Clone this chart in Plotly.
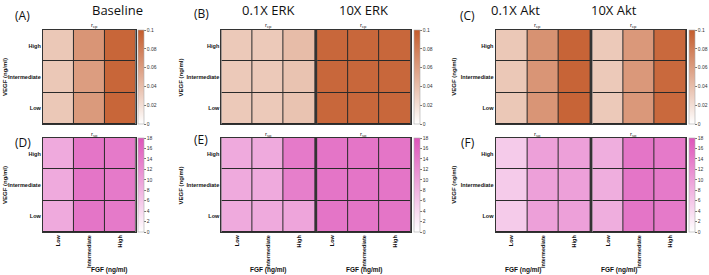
import plotly.graph_objects as go

W, H = 709, 275

fgf_levels = ["Low", "Intermediate", "High"]
vegf_levels = ["Low", "Intermediate", "High"]

# rows: VEGF Low, Intermediate, High ; cols: FGF Low, Intermediate, High
rcp_baseline = [[0.034, 0.062, 0.094], [0.034, 0.060, 0.094], [0.034, 0.065, 0.094]]
rcp_erk_01 = [[0.033, 0.033, 0.037], [0.033, 0.033, 0.037], [0.033, 0.033, 0.041]]
rcp_erk_10 = [[0.093, 0.093, 0.093], [0.093, 0.093, 0.093], [0.093, 0.093, 0.093]]
rcp_akt_01 = [[0.034, 0.065, 0.095], [0.034, 0.065, 0.095], [0.034, 0.067, 0.095]]
rcp_akt_10 = [[0.033, 0.063, 0.092], [0.033, 0.063, 0.092], [0.033, 0.063, 0.092]]

rsg_baseline = [[9.0, 14.5, 14.0], [9.0, 14.5, 14.0], [9.0, 14.5, 14.0]]
rsg_erk_01 = [[9.0, 9.0, 9.5], [9.0, 9.0, 13.5], [9.0, 9.0, 14.0]]
rsg_erk_10 = [[14.5, 14.5, 14.5], [14.5, 14.5, 14.5], [14.5, 14.5, 14.5]]
rsg_akt_01 = [[5.5, 10.0, 10.0], [5.5, 10.0, 10.0], [5.5, 10.0, 10.0]]
rsg_akt_10 = [[8.5, 14.5, 14.0], [8.5, 14.5, 14.0], [8.5, 14.5, 14.0]]

rcp_ticks = [0, 0.02, 0.04, 0.06, 0.08, 0.1]
rsg_ticks = [0, 2, 4, 6, 8, 10, 12, 14, 16, 18]

ORANGE = [[0, "rgb(255,255,255)"], [1, "rgb(196,92,44)"]]
PINK = [[0, "rgb(255,255,255)"], [1, "rgb(222,84,186)"]]

# pixel layout (x0, x1) for each heatmap column
cols = {"A": (43, 136), "B1": (222, 316), "B2": (318, 412), "C1": (497, 592), "C2": (594, 688)}
rows = {"top": (30, 124), "bot": (138, 232)}

panels = [
    ("A", "top", rcp_baseline), ("B1", "top", rcp_erk_01), ("B2", "top", rcp_erk_10),
    ("C1", "top", rcp_akt_01), ("C2", "top", rcp_akt_10),
    ("A", "bot", rsg_baseline), ("B1", "bot", rsg_erk_01), ("B2", "bot", rsg_erk_10),
    ("C1", "bot", rsg_akt_01), ("C2", "bot", rsg_akt_10),
]
cbar_cols = {"A": 138, "B2": 415, "C2": 691}

FONT = "Liberation Sans, Arial, sans-serif"
fig = go.Figure()
layout = {}
annotations = []

for i, (c, r, z) in enumerate(panels, start=1):
    x0, x1 = cols[c]
    y0, y1 = rows[r]
    top = r == "top"
    show_cb = c in cbar_cols
    cb = None
    if show_cb:
        cb = dict(
            x=cbar_cols[c] / W, xanchor="left", y=1 - y0 / H, yanchor="top",
            len=(y1 - y0) / H, lenmode="fraction", thickness=6, xpad=0, ypad=0,
            outlinewidth=0.6, outlinecolor="#aaaaaa",
            tickvals=rcp_ticks if top else rsg_ticks,
            ticktext=[str(v) for v in (rcp_ticks if top else rsg_ticks)],
            ticks="outside", ticklen=2, tickwidth=0.5, tickcolor="#777",
            tickfont=dict(size=5, family=FONT, color="#333"),
        )
    fig.add_trace(go.Heatmap(
        z=z, x=fgf_levels, y=vegf_levels,
        colorscale=ORANGE if top else PINK,
        zmin=0, zmax=0.1 if top else 18,
        xgap=1, ygap=1,
        showscale=show_cb, colorbar=cb,
        xaxis=f"x{i}", yaxis=f"y{i}", hoverinfo="skip",
    ))
    sfx = "" if i == 1 else str(i)
    left = c in ("A", "B1", "C1")
    layout[f"xaxis{sfx}"] = dict(
        domain=[x0 / W, x1 / W], anchor=f"y{i}", type="category",
        categoryorder="array", categoryarray=fgf_levels,
        showticklabels=not top, tickangle=-90, ticks="",
        tickfont=dict(size=5.5, family=FONT, color="#111"),
        tickprefix="<b>", ticksuffix="</b>",
        showline=True, linecolor="#333", linewidth=1, mirror=True,
        showgrid=False, zeroline=False, fixedrange=True,
    )
    layout[f"yaxis{sfx}"] = dict(
        domain=[1 - y1 / H, 1 - y0 / H], anchor=f"x{i}", type="category",
        categoryorder="array", categoryarray=vegf_levels,
        showticklabels=left, ticks="",
        tickfont=dict(size=5.5, family=FONT, color="#111"),
        tickprefix="<b>", ticksuffix="</b>",
        showline=True, linecolor="#333", linewidth=1, mirror=True,
        showgrid=False, zeroline=False, fixedrange=True,
    )
    # subplot label r_cp / r_sg
    annotations.append(dict(
        x=(x0 + x1) / 2 / W, y=1 - (y0 - 4) / H, xref="paper", yref="paper",
        text="r<sub>cp</sub>" if top else "r<sub>sg</sub>", showarrow=False,
        font=dict(size=6, family=FONT, color="#222"), yanchor="middle",
    ))
    if not top:
        annotations.append(dict(
            x=(x0 + x1) / 2 / W, y=1 - 270 / H, xref="paper", yref="paper",
            text="<b>FGF (ng/ml)</b>", showarrow=False,
            font=dict(size=6.5, family=FONT, color="#111"), yanchor="middle",
        ))
    if left:
        xt = {"A": 5, "B1": 182, "C1": 455}[c]
        annotations.append(dict(
            x=xt / W, y=1 - (y0 + y1) / 2 / H, xref="paper", yref="paper",
            text="<b>VEGF (ng/ml)</b>", showarrow=False, textangle=-90,
            font=dict(size=6, family=FONT, color="#111"),
            xanchor="center", yanchor="middle",
        ))

TFONT = "Open Sans, Noto Sans, sans-serif"
titles = [("Baseline", 90, 10), ("0.1X ERK", 269, 10), ("10X ERK", 365, 10),
          ("0.1X Akt", 544, 10), ("10X Akt", 641, 10)]
for t, x, y in titles:
    annotations.append(dict(x=x / W, y=1 - y / H, xref="paper", yref="paper", text=t,
                            showarrow=False, font=dict(size=13, family=TFONT, color="#111"),
                            yanchor="middle"))
letters = [("(A)", 13, 15), ("(B)", 193, 14), ("(C)", 478, 15),
           ("(D)", 13, 142), ("(E)", 193, 140), ("(F)", 478, 142)]
for t, x, y in letters:
    annotations.append(dict(x=x / W, y=1 - y / H, xref="paper", yref="paper", text=t,
                            showarrow=False, font=dict(size=12, family=TFONT, color="#111"),
                            yanchor="middle"))

fig.update_layout(
    width=W, height=H, margin=dict(l=0, r=0, t=0, b=0),
    paper_bgcolor="white", plot_bgcolor="#2a2a2a",
    annotations=annotations, showlegend=False, **layout,
)
fig.write_html("out.html", config={"displayModeBar": False},
               post_script="document.body.style.margin='0';document.body.style.overflow='hidden';")
